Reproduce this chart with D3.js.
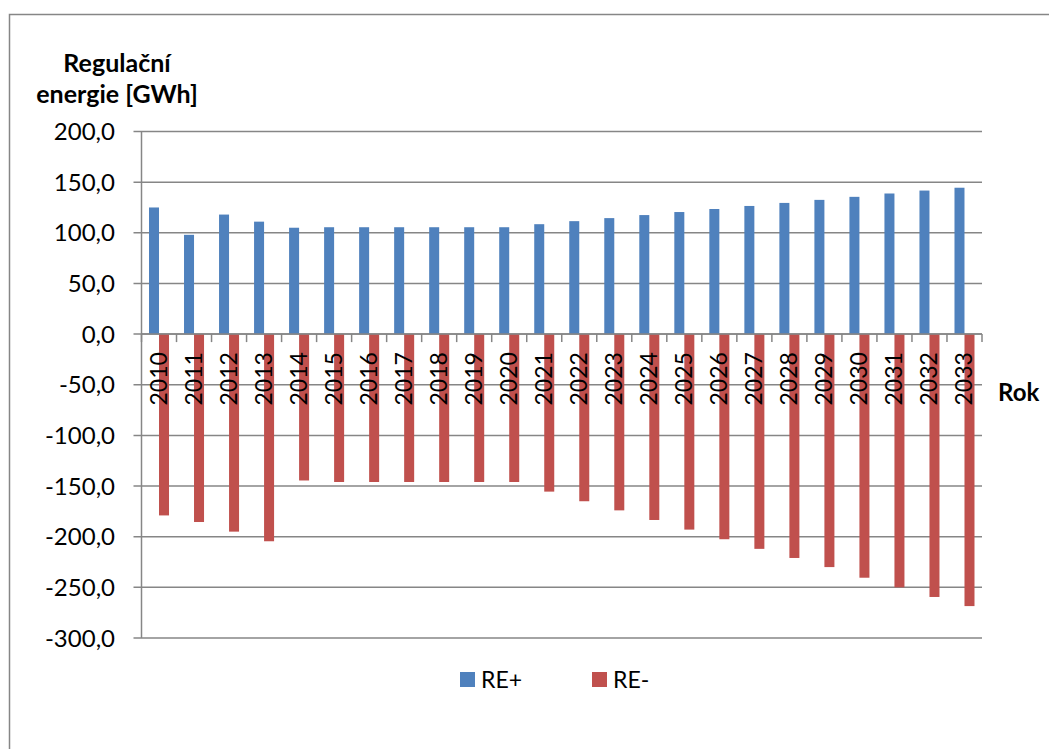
<!DOCTYPE html>
<html>
<head>
<meta charset="utf-8">
<script src="https://cdn.jsdelivr.net/npm/d3@7"></script>
<style>
  html, body { margin: 0; padding: 0; background: #fff; }
  svg { display: block; font-family: Lato, "Open Sans", sans-serif; }
</style>
</head>
<body>
<svg id="chart" width="1049" height="749"></svg>
<script>
// Years on the category axis
const years = ["2010","2011","2012","2013","2014","2015","2016","2017","2018","2019","2020","2021",
               "2022","2023","2024","2025","2026","2027","2028","2029","2030","2031","2032","2033"];
// Positive balancing energy (GWh)
const rePlus = [125, 98, 118, 111, 105, 105.5, 105.5, 105.5, 105.5, 105.5, 105.5, 108.5,
                111.5, 114.5, 117.5, 120.5, 123.5, 126.5, 129.5, 132.5, 135.5, 138.8, 141.7, 144.5];
// Negative balancing energy (GWh)
const reMinus = [-179, -185.5, -195, -204.5, -144.5, -146, -146, -146, -146, -146, -146, -155.5,
                 -165, -174, -183.5, -193, -202.5, -212, -221, -230, -240.5, -250, -259.5, -268.5];
const yTicks = [200, 150, 100, 50, 0, -50, -100, -150, -200, -250, -300];
const seriesNames = ["RE+", "RE-"];
const seriesColors = ["#4F81BD", "#C0504D"];
const yTitle = ["Regulační", "energie [GWh]"];
const xTitle = "Rok";

const svg = d3.select("#chart");
const axisColor = "#868686";

// outer chart frame
svg.append("rect")
  .attr("x", 9.5).attr("y", 14.5)
  .attr("width", 1100).attr("height", 800)
  .attr("fill", "none").attr("stroke", axisColor).attr("stroke-width", 1.5);

const plot = { left: 141.5, right: 982, top: 131.5, bottom: 638 };

const y = d3.scaleLinear().domain([-300, 200]).range([plot.bottom, plot.top]);
const x = d3.scaleBand().domain(years).range([plot.left, plot.right]).paddingInner(0).paddingOuter(0);
const inner = d3.scaleBand().domain(seriesNames).range([0, x.bandwidth()]).paddingInner(0).paddingOuter(0.75);

// horizontal gridlines with left ticks
svg.append("g").selectAll("line").data(yTicks).join("line")
  .attr("x1", plot.left - 8).attr("x2", plot.right)
  .attr("y1", d => y(d)).attr("y2", d => y(d))
  .attr("stroke", axisColor).attr("stroke-width", 1.5);

// y axis tick labels
const fmt = v => d3.format(".1f")(v).replace(".", ",").replace("−", "-");
svg.append("g").selectAll("text").data(yTicks).join("text")
  .attr("x", 115).attr("y", d => y(d)).attr("dy", "0.36em")
  .attr("text-anchor", "end").attr("font-size", 24).attr("fill", "#000")
  .text(fmt);

// bars
const series = [rePlus, reMinus];
series.forEach((vals, si) => {
  svg.append("g").selectAll("rect").data(vals).join("rect")
    .attr("x", (d, i) => x(years[i]) + inner(seriesNames[si]))
    .attr("width", inner.bandwidth())
    .attr("y", d => Math.min(y(d), y(0)))
    .attr("height", d => Math.abs(y(d) - y(0)))
    .attr("fill", seriesColors[si]);
});

// vertical axis line
svg.append("line")
  .attr("x1", plot.left).attr("x2", plot.left)
  .attr("y1", plot.top).attr("y2", plot.bottom)
  .attr("stroke", axisColor).attr("stroke-width", 1.5);

// category axis along zero with ticks at band boundaries
svg.append("line")
  .attr("x1", plot.left).attr("x2", plot.right)
  .attr("y1", y(0)).attr("y2", y(0))
  .attr("stroke", axisColor).attr("stroke-width", 1.5);
const bounds = years.map(d => x(d)).concat([plot.right]);
svg.append("g").selectAll("line").data(bounds).join("line")
  .attr("x1", d => d).attr("x2", d => d)
  .attr("y1", y(0)).attr("y2", y(0) + 8)
  .attr("stroke", axisColor).attr("stroke-width", 1.5);

// rotated year labels
svg.append("g").selectAll("text").data(years).join("text")
  .attr("transform", d => `translate(${x(d) + x.bandwidth() / 2 + 8},${y(0) + 18}) rotate(-90)`)
  .attr("text-anchor", "end").attr("font-size", 23).attr("fill", "#000")
  .text(d => d);

// axis titles
svg.append("text").attr("x", 117).attr("text-anchor", "middle")
  .attr("font-size", 25).attr("font-weight", "bold").attr("fill", "#000")
  .selectAll("tspan").data(yTitle).join("tspan")
  .attr("x", 117).attr("y", (d, i) => 72 + i * 31).text(d => d);

svg.append("text").attr("x", 998).attr("y", 401)
  .attr("font-size", 24).attr("font-weight", "bold").attr("fill", "#000")
  .text(xTitle);

// legend
const legend = [{ x: 460 }, { x: 592 }];
seriesNames.forEach((name, i) => {
  const g = svg.append("g").attr("transform", `translate(${legend[i].x},672)`);
  g.append("rect").attr("width", 15).attr("height", 15).attr("fill", seriesColors[i]);
  g.append("text").attr("x", 21).attr("y", 15.5).attr("font-size", 23).attr("fill", "#000").text(name);
});
</script>
</body>
</html>
